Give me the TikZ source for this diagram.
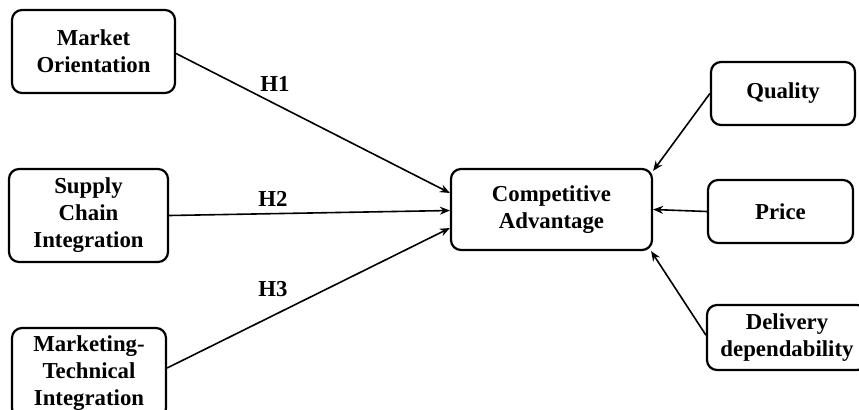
\documentclass[tikz,border=0pt]{standalone}
\usepackage{fontspec}
\setmainfont{Liberation Serif}
\usetikzlibrary{arrows.meta, positioning}
\tikzset{
    block/.style={rectangle, draw, line width=1.1pt, rounded corners=5pt, align=center, inner sep=0pt, font=\fontsize{11.4}{13.5}\selectfont\bfseries},
    hyp/.style={inner sep=0pt, font=\fontsize{11.4}{13.5}\selectfont\bfseries},
    arrow/.style={line width=0.8pt, -{Stealth[length=5pt, width=4pt]}}
}

\begin{document}
\begin{tikzpicture}[x=0.5pt, y=-0.5pt]
    \useasboundingbox (0,0) rectangle (859,409);

    % Antecedents
    \node (mo) [block, minimum width=81.5pt, minimum height=41.5pt] at (93.5,51.5) {Market\\Orientation};
    \node (sci) [block, minimum width=79.5pt, minimum height=46.5pt] at (88.5,215.5) {Supply\\Chain\\Integration};
    \node (mti) [block, minimum width=77pt, minimum height=45pt] at (89,373) {Marketing-\\Technical\\Integration};

    % Outcome
    \node (ca) [block, minimum width=100.5pt, minimum height=40.5pt] at (551.5,209.5) {Competitive\\Advantage};

    % Dimensions
    \node (quality) [block, minimum width=72pt, minimum height=31.5pt] at (783,93.5) {Quality};
    \node (price) [block, minimum width=72.5pt, minimum height=31.5pt] at (780.5,211.5) {Price};
    \node (delivery) [block, minimum width=80pt, minimum height=32.5pt] at (787,337.5) {Delivery\\dependability};

    % Hypotheses
    \node (h1) [hyp] at (275,84) {H1};
    \node (h2) [hyp] at (273,199) {H2};
    \node (h3) [hyp] at (273,289) {H3};

    \draw [arrow] ([yshift=-1pt]mo.east) -- ([yshift=8.25pt]ca.west);
    \draw [arrow] (sci.east) -- ([yshift=-0.5pt]ca.west);
    \draw [arrow] ([yshift=2.5pt]mti.east) -- ([yshift=-9.25pt]ca.west);

    \draw [arrow] (quality.west) -- ([yshift=-1.5pt]ca.north east);
    \draw [arrow] (price.west) -- (ca.east);
    \draw [arrow] ([yshift=1.2pt]delivery.west) -- ([xshift=-1pt]ca.south east);
\end{tikzpicture}
\end{document}
